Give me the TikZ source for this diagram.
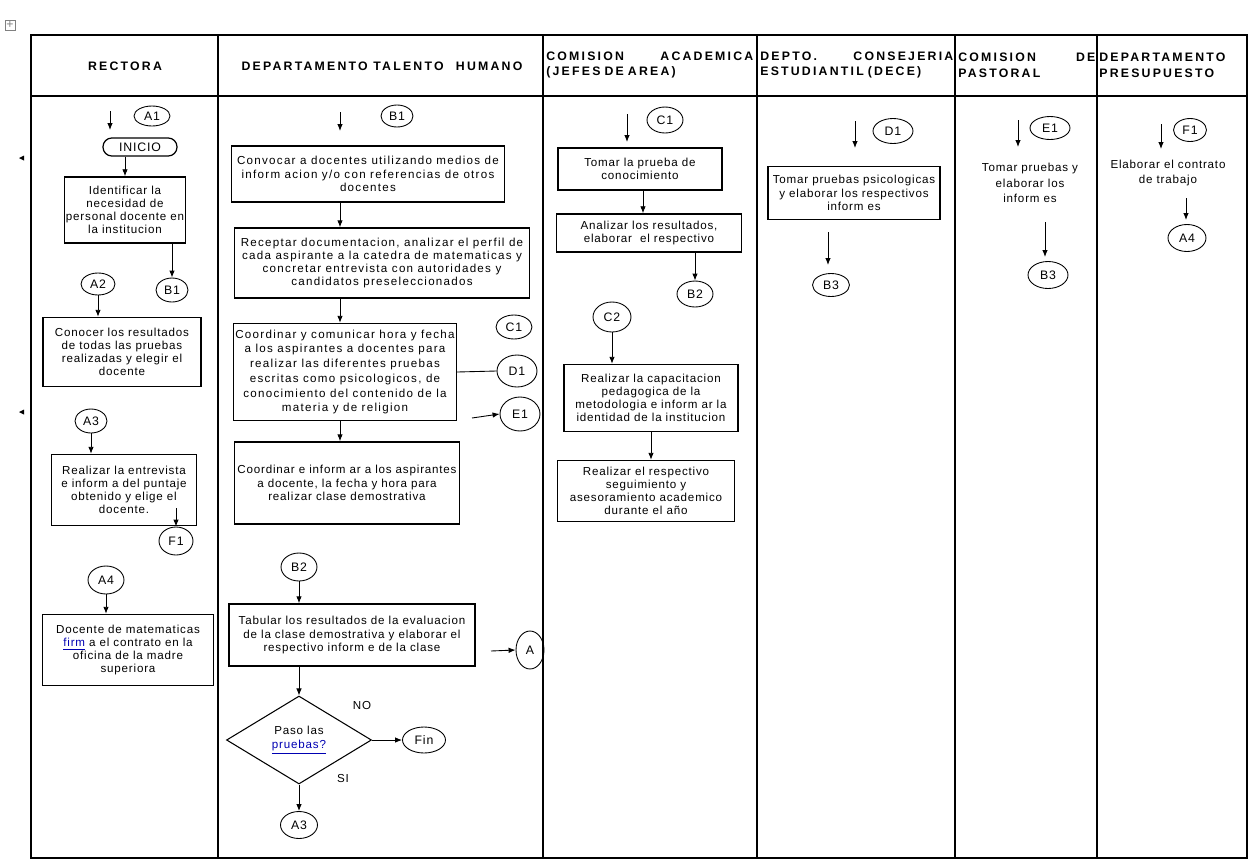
\documentclass[tikz,border=0pt]{standalone}
\usepackage{fontspec}
\setmainfont{Liberation Sans}
\newfontfamily\boxfont[LetterSpace=7]{Liberation Sans}
\newfontfamily\widefont[LetterSpace=11]{Liberation Sans}
\newfontfamily\headfont[LetterSpace=18]{Liberation Sans}
\usetikzlibrary{positioning,arrows.meta,shapes.geometric,calc}
\tikzset{
proc/.style={draw,line width=0.8pt,align=center,inner sep=1pt,font=\boxfont\fontsize{6.6}{7.5}\selectfont},
wide/.style={font=\widefont\fontsize{6.6}{7.5}\selectfont},
note/.style={align=center,inner sep=1pt,font=\boxfont\fontsize{6.6}{8}\selectfont},
conn/.style={draw,ellipse,line width=0.5pt,inner sep=0pt,font=\boxfont\fontsize{7}{8}\selectfont},
head/.style={inner sep=0pt,font=\headfont\bfseries\fontsize{7}{9}\selectfont},
arrow/.style={-{Latex[length=1.4mm,width=1.1mm]},line width=0.5pt},
link/.style={line width=0.5pt},
grid/.style={line width=0.6pt}
}
\newcommand{\lnk}[1]{\textcolor{blue!70!black}{\underline{#1}}}
\begin{document}
\begin{tikzpicture}[x=0.02cm,y=-0.02cm]
\useasboundingbox (0,0) rectangle (1252,866);
% tabla
\draw[grid] (31,35) rectangle (1247,858);
\draw[line width=1.3pt] (31,35) -- (1247,35);
\draw[line width=1.1pt] (31,96) -- (1247,96);
\foreach \x in {218,543,757,955,1097} \draw[grid] (\x,35) -- (\x,858);
\node[draw,gray,inner sep=0.8pt,minimum size=0.2cm,font=\scriptsize] (mover) at (10,25) {+};
\foreach \y in {158,412} \fill (19,\y) -- (24,\y-2.5) -- (24,\y+2.5) -- cycle;

% encabezados
\node[head] (hrec) at (125,66) {RECTORA};
\node[head] (hdth) at (382,66) {DEPARTAMENTO TALENTO\quad HUMANO};
\node[head,text width=4.14cm,align=left,anchor=west] (hcom) at (546,65) {COMISION\hfill ACADEMICA\\(JEFES DE AREA)};
\node[head,text width=3.86cm,align=left,anchor=west] (hdece) at (760,65) {DEPTO.\hfill CONSEJERIA\\ESTUDIANTIL (DECE)};
\node[head,text width=2.74cm,align=left,anchor=west] (hpas) at (958,65) {COMISION\hfill DE\\PASTORAL};
\node[head,text width=2.92cm,align=left,anchor=west] (hpre) at (1099,65) {DEPARTAMENTO\\PRESUPUESTO};

% rectora
\coordinate (a1in) at (110,111);
\draw[arrow] (a1in) -- ++(0,19);
\node[conn,minimum width=0.72cm,minimum height=0.4cm] (aone) at (152,116) {A1};
\node[draw,line width=0.7pt,rounded corners=5pt,minimum width=1.48cm,minimum height=0.36cm,inner sep=0pt,font=\boxfont\fontsize{7}{8}\selectfont] (inicio) at (140,147) {INICIO};
\node[proc,minimum width=2.2cm,minimum height=1.32cm] (ident) at (125,210) {Identificar la\\necesidad de\\personal docente en\\la institucion};
\node[conn,minimum width=0.64cm,minimum height=0.48cm] (bone) at (172,290) {B1};
\node[conn,minimum width=0.68cm,minimum height=0.44cm] (atwo) at (98,284) {A2};
\node[proc,minimum width=3.16cm,minimum height=1.38cm] (conocer) at (122,352) {Conocer los resultados\\de todas las pruebas\\realizadas y elegir el\\docente};
\node[conn,minimum width=0.64cm,minimum height=0.48cm] (athree) at (91,421) {A3};
\node[proc,minimum width=2.9cm,minimum height=1.42cm] (entrev) at (124,490) {Realizar la entrevista\\e inform a del puntaje\\obtenido y elige el\\docente.};
\node[conn,minimum width=0.68cm,minimum height=0.56cm] (fone) at (176,541) {F1};
\node[conn,minimum width=0.72cm,minimum height=0.56cm] (afour) at (106,580) {A4};
\node[proc,minimum width=3.42cm,minimum height=1.42cm] (firma) at (128,650) {Docente de matematicas\\\lnk{firm} a el contrato en la\\oficina de la madre\\superiora};
\draw[arrow] (inicio.south -| ident) -- (ident.north);
\draw[arrow] (ident.south -| bone) -- (bone.north);
\draw[arrow] (atwo.south) -- (atwo |- conocer.north);
\draw[arrow] (athree.south) -- (athree |- entrev.north);
\draw[arrow] ($(entrev.south -| fone)+(0,-18)$) -- (fone.north);
\draw[arrow] (afour.south) -- (afour |- firma.north);

% talento humano
\coordinate (colb) at (340,0);
\coordinate (b1in) at (340,112);
\draw[arrow] (b1in) -- ++(0,19);
\node[conn,minimum width=0.64cm,minimum height=0.44cm] (bonet) at (397,116) {B1};
\node[proc,wide,minimum width=5.46cm,minimum height=1.12cm] (convocar) at (368,174) {Convocar a docentes utilizando medios de\\inform acion y/o con referencias de otros\\docentes};
\node[proc,wide,minimum width=5.9cm,minimum height=1.4cm] (receptar) at (382,263) {Receptar documentacion, analizar el perfil de\\cada aspirante a la catedra de matematicas y\\concretar entrevista con autoridades y\\candidatos preseleccionados};
\node[proc,minimum width=4.4cm,minimum height=1.94cm,font=\widefont\fontsize{6.6}{8.4}\selectfont] (coordinar) at (345,372) {Coordinar y comunicar hora y fecha\\a los aspirantes a docentes para\\realizar las diferentes pruebas\\escritas como psicologicos, de\\conocimiento del contenido de la\\materia y de religion};
\node[conn,minimum width=0.72cm,minimum height=0.48cm] (cone) at (514,327) {C1};
\node[conn,minimum width=0.8cm,minimum height=0.64cm] (done) at (517,371) {D1};
\node[conn,minimum width=0.8cm,minimum height=0.68cm] (eone) at (520,414) {E1};
\node[proc,minimum width=4.5cm,minimum height=1.64cm] (informar) at (347,483) {Coordinar e inform ar a los aspirantes\\a docente, la fecha y hora para\\realizar clase demostrativa};
\node[conn,minimum width=0.72cm,minimum height=0.56cm] (btwo) at (299,567) {B2};
\node[proc,minimum width=4.92cm,minimum height=1.24cm] (tabular) at (352,635) {Tabular los resultados de la evaluacion\\de la clase demostrativa y elaborar el\\respectivo inform e de la clase};
\node[conn,minimum width=0.56cm,minimum height=0.76cm] (aend) at (530,650) {A};
\node[draw,diamond,line width=0.6pt,minimum width=2.9cm,minimum height=1.76cm,inner sep=0pt,font=\boxfont\fontsize{6.6}{8}\selectfont,align=center] (paso) at (299,740) {Paso las\\\lnk{pruebas?}};
\node[conn,minimum width=0.86cm,minimum height=0.52cm] (fin) at (424,740) {Fin};
\node[conn,minimum width=0.74cm,minimum height=0.54cm] (athr) at (299,825) {A3};
\node[note] (no) at (362,705) {NO};
\node[note] (si) at (343,778) {SI};
\coordinate (e1in) at (472,418);
\coordinate (ain) at (491,651);
\foreach \x/\y in {convocar/receptar,receptar/coordinar,coordinar/informar} \draw[arrow] (\x.south -| colb) -- (\y.north -| colb);
\draw[link] (coordinar.east) -- (done.west);
\draw[arrow] (e1in) -- (eone.west);
\draw[arrow] (btwo.south) -- (btwo |- tabular.north);
\draw[arrow] (tabular.south -| paso) -- (paso.north);
\draw[arrow] (ain) -- (aend.west);
\draw[arrow] (paso.east) -- (fin.west);
\draw[arrow] (paso.south) -- (athr.north);

% comision academica
\coordinate (c1in) at (627,114);
\draw[arrow] (c1in) -- ++(0,28);
\node[conn,minimum width=0.72cm,minimum height=0.52cm] (conec) at (665,120) {C1};
\node[proc,minimum width=3.28cm,minimum height=0.84cm] (tomar) at (640,169) {Tomar la prueba de\\conocimiento};
\node[proc,minimum width=3.7cm,minimum height=0.76cm] (analizar) at (649,233) {Analizar los resultados,\\elaborar\ \ el respectivo};
\node[conn,minimum width=0.72cm,minimum height=0.52cm] (btwoc) at (695,294) {B2};
\node[conn,minimum width=0.76cm,minimum height=0.6cm] (ctwo) at (612,317) {C2};
\node[proc,minimum width=3.48cm,minimum height=1.34cm] (capacit) at (651,398) {Realizar la capacitacion\\pedagogica de la\\metodologia e inform ar la\\identidad de la institucion};
\node[proc,minimum width=3.54cm,minimum height=1.22cm] (seguim) at (646,491) {Realizar el respectivo\\seguimiento y\\asesoramiento academico\\durante el a\~no};
\draw[arrow] (tomar.south -| 643,0) -- (analizar.north -| 643,0);
\draw[arrow] (analizar.south -| btwoc) -- (btwoc.north);
\draw[arrow] (ctwo.south) -- (ctwo |- capacit.north);
\draw[arrow] (capacit.south) -- (seguim.north -| capacit);

% dece
\coordinate (d1in) at (855,121);
\draw[arrow] (d1in) -- ++(0,27);
\node[conn,minimum width=0.8cm,minimum height=0.5cm] (donec) at (893,131) {D1};
\node[proc,minimum width=3.44cm,minimum height=1.06cm] (psico) at (854,193) {Tomar pruebas psicologicas\\y elaborar los respectivos\\inform es};
\coordinate (d2in) at (828,232);
\draw[arrow] (d2in) -- ++(0,33);
\node[conn,minimum width=0.74cm,minimum height=0.46cm] (bthree) at (831,285) {B3};

% pastoral
\coordinate (e1p) at (1018,120);
\draw[arrow] (e1p) -- ++(0,27);
\node[conn,minimum width=0.8cm,minimum height=0.46cm] (eonep) at (1050,128) {E1};
\node[note,font=\boxfont\fontsize{6.6}{9}\selectfont] (pruebasp) at (1030,183) {Tomar pruebas y\\elaborar los\\inform es};
\coordinate (e2p) at (1045,222);
\draw[arrow] (e2p) -- ++(0,35);
\node[conn,minimum width=0.8cm,minimum height=0.54cm] (bthreep) at (1048,275) {B3};

% presupuesto
\coordinate (f1in) at (1161,124);
\draw[arrow] (f1in) -- ++(0,25);
\node[conn,minimum width=0.66cm,minimum height=0.46cm] (fonep) at (1190,130) {F1};
\node[note] (contrato) at (1168,173) {Elaborar el contrato\\de trabajo};
\coordinate (f2in) at (1186,198);
\draw[arrow] (f2in) -- ++(0,22);
\node[conn,minimum width=0.76cm,minimum height=0.54cm] (afourp) at (1187,238) {A4};
\end{tikzpicture}
\end{document}
